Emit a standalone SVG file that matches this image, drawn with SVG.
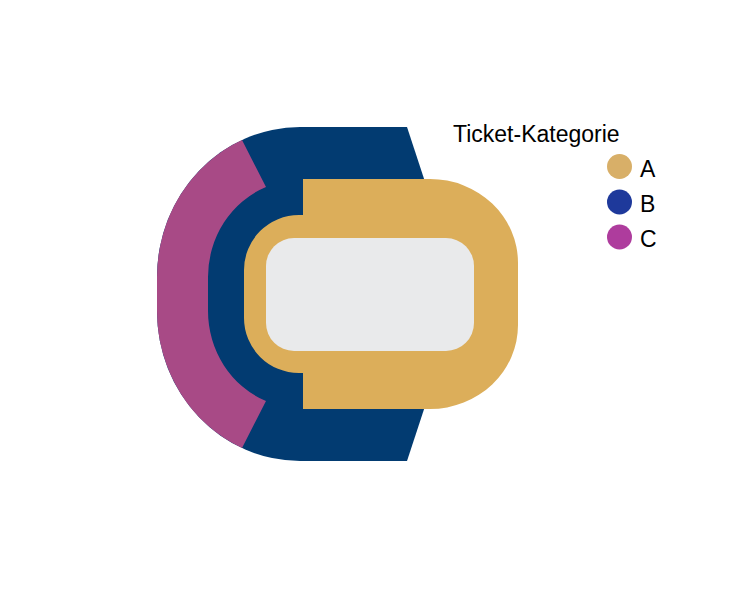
<svg xmlns="http://www.w3.org/2000/svg" width="754" height="589" viewBox="0 0 754 589">
<style>
.lbl{font-family:"Liberation Sans",Arial,sans-serif;fill:#000;}
.title{font-size:23px;}
.key{font-size:23px;}
</style>
<rect width="754" height="589" fill="#ffffff"/>
<g id="section-B">
<path d="M300 127 L407 127 L431 200 L431 388 L407 461 L300 461 A143 150 0 0 1 157 311 L157 277 A143 150 0 0 1 300 127 Z" fill="#023B71"/>
</g>
<g id="section-C">
<path d="M242 140 A143 150 0 0 0 157 277 L157 311 A143 150 0 0 0 242 448 L266 401 A92 97 0 0 1 208 311 L208 277 A92 97 0 0 1 266 187 Z" fill="#A84A86"/>
</g>
<g id="section-A">
<path d="M303 179 L430 179 A88 84 0 0 1 518 263 L518 325 A88 84 0 0 1 430 409 L303 409 L303 373 L299 373 A55 55 0 0 1 244 318 L244 270 A55 55 0 0 1 299 215 L303 215 Z" fill="#DCAE5A"/>
</g>
<g id="field">
<rect x="266" y="238" width="208" height="113" rx="28" ry="28" fill="#E9EAEB"/>
</g>
<g id="legend">
<text class="lbl title" x="453" y="142">Ticket-Kategorie</text>
<circle cx="619.5" cy="166.5" r="12.5" fill="#D8AF68"/>
<text class="lbl key" x="640" y="177">A</text>
<circle cx="619.5" cy="202" r="12.5" fill="#1E399B"/>
<text class="lbl key" x="640" y="212">B</text>
<circle cx="619.5" cy="237" r="12.5" fill="#AE3C9D"/>
<text class="lbl key" x="640" y="247">C</text>
</g>
</svg>
